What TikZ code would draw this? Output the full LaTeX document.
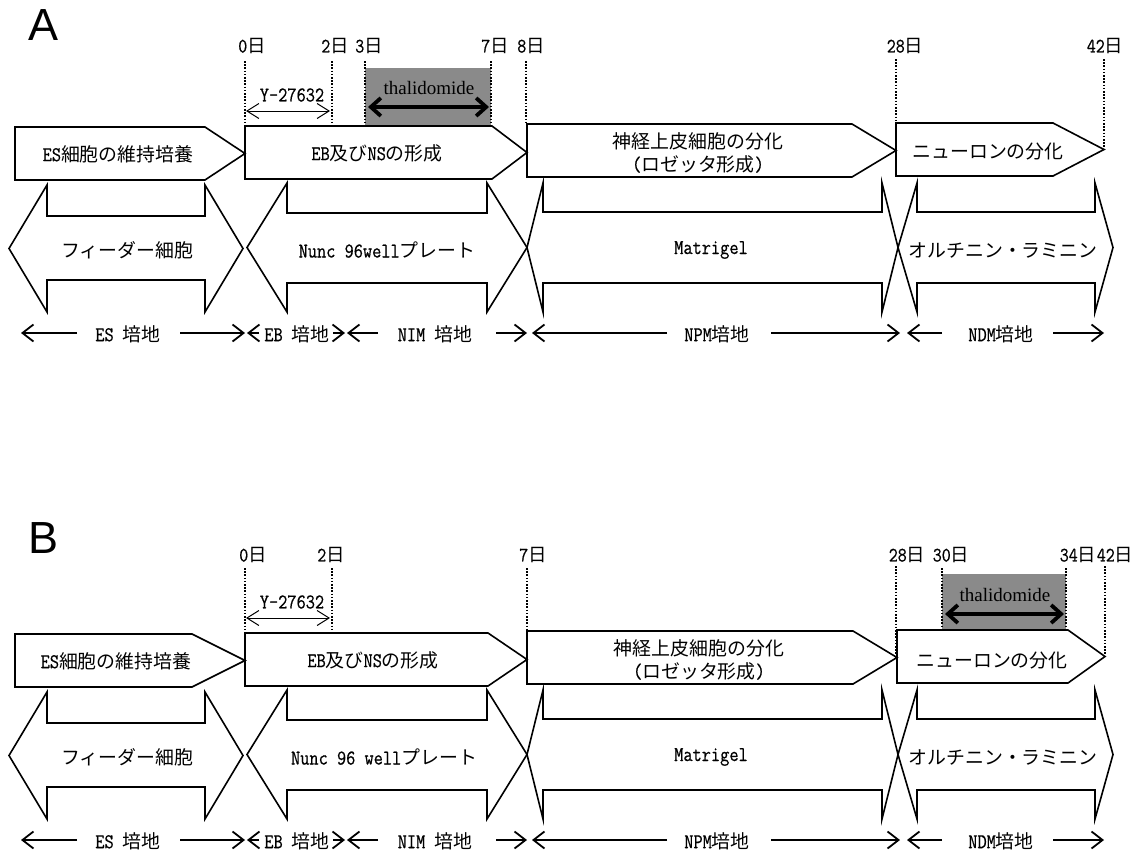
\documentclass[tikz,border=0pt]{standalone}
\usepackage{fontspec}
\setmainfont{Liberation Serif}
\newfontfamily\cjk[Scale=0.9]{Noto Sans CJK JP}
\newfontfamily\lat[FakeStretch=0.85,FakeBold=0.6]{Latin Modern Mono}
\newfontfamily\lsans{Liberation Sans}
\usetikzlibrary{arrows.meta}
\newcommand\J[1]{{\cjk #1}}
\definecolor{thgray}{RGB}{138,138,138}
% pentagon box: x1, xflat, xtip, top, bottom
\newcommand\pentbox[5]{\draw[pbox] (#1,#4) -- (#2,#4) -- (#3,{(#4+#5)/2}) -- (#2,#5) -- (#1,#5) -- cycle;}
% double arrow: ltip, lbase, rbase, rtip, headtop, stemtop, stembot, headbot
\newcommand\dblbox[8]{\draw[pbox] (#1,{(#5+#8)/2}) -- (#2,#5) -- (#2,#6) -- (#3,#6) -- (#3,#5) -- (#4,{(#5+#8)/2}) -- (#3,#8) -- (#3,#7) -- (#2,#7) -- (#2,#8) -- cycle;}
\tikzset{
  pbox/.style={draw=black, line width=1.6pt, line join=miter},
  lbl/.style={inner sep=0pt, font=\fontsize{21}{24}\selectfont\lat},
  daylbl/.style={inner sep=0pt, font=\fontsize{20.5}{23}\selectfont\lat},
  vline/.style={line width=1.8pt, dash pattern=on 1.6pt off 1.6pt},
  med/.style={line width=1.8pt, -{Straight Barb[length=11pt,width=17pt]}},
  yarr/.style={line width=1pt, {Straight Barb[length=12pt,width=15pt]}-{Straight Barb[length=12pt,width=15pt]}},
  tharr/.style={line width=3.8pt, {Straight Barb[length=10pt,width=18pt]}-{Straight Barb[length=10pt,width=18pt]}},
  thbox/.style={fill=thgray, draw=none},
  thtext/.style={inner sep=0pt, font=\fontsize{19}{22}\selectfont\rmfamily},
  panellbl/.style={inner sep=0pt, font=\fontsize{45}{45}\selectfont\lsans},
}
\begin{document}
\begin{tikzpicture}[x=1pt,y=-1pt]
\useasboundingbox (0,0) rectangle (1137,854);
\fill[white] (0,0) rectangle (1137,854);

%%%%%%%%%%%%%%%%%%%% PANEL A %%%%%%%%%%%%%%%%%%%%
\node[panellbl] (A-lbl) at (44,25) {A};
% day labels
\node[daylbl] (A-d0) at (252,46) {0\J{日}};
\node[daylbl] (A-d2) at (335,46) {2\J{日}};
\node[daylbl] (A-d3) at (369,46) {3\J{日}};
\node[daylbl] (A-d7) at (495,46) {7\J{日}};
\node[daylbl] (A-d8) at (531,46) {8\J{日}};
\node[daylbl] (A-d28) at (905,46) {28\J{日}};
\node[daylbl] (A-d42) at (1105,46) {42\J{日}};
% thalidomide box
\fill[thbox] (365,68) rectangle (491,126);
% dotted day lines
\draw[vline] (245,61) -- (245,126);
\draw[vline] (332,61) -- (332,126);
\draw[vline] (365,61) -- (365,126);
\draw[vline] (491,61) -- (491,126);
\draw[vline] (526,61) -- (526,124);
\draw[vline] (896,59) -- (896,150);
\draw[vline] (1104,59) -- (1104,149);
% Y-27632
\node[lbl] (A-y) at (292,95) {Y-27632};
\coordinate (A-y1) at (246,111); \coordinate (A-y2) at (330,111);
\draw[yarr] (A-y1) -- (A-y2);
% thalidomide
\node[thtext] (A-th) at (429,88) {thalidomide};
\coordinate (A-t1) at (368,107); \coordinate (A-t2) at (489,107);
\draw[tharr] (A-t1) -- (A-t2);
% row 1
\pentbox{15}{205}{245}{127}{180}
\pentbox{245}{492}{527}{126}{179}
\pentbox{527}{852}{896}{124}{177}
\pentbox{896}{1053}{1104}{123}{176}
\node[lbl] (A-es) at (118,154) {ES\J{細胞の維持培養}};
\node[lbl] (A-eb) at (377,153) {EB\J{及び}NS\J{の形成}};
\node[lbl] (A-ne1) at (698,141) {\J{神経上皮細胞の分化}};
\node[lbl] (A-ne2) at (698,164) {(\J{ロゼッタ形成})};
\node[lbl] (A-nu) at (988,152) {\J{ニューロンの分化}};
% row 2
\dblbox{9}{47}{205}{243}{185}{216}{280}{312}
\dblbox{247}{287}{487}{527}{183}{213}{283}{312}
\dblbox{527}{543}{882}{898}{183}{212}{283}{312}
\dblbox{898}{917}{1095}{1113}{183}{212}{283}{312}
\node[lbl] (A-fd) at (127,250) {\J{フィーダー細胞}};
\node[lbl] (A-nc) at (387,250) {Nunc 96well\J{プレート}};
\node[lbl] (A-mg) at (711,250) {Matrigel};
\node[lbl] (A-or) at (1003,250) {\J{オルチニン・ラミニン}};
% row 3 media
\node[lbl] (A-m1) at (128,334) {ES \J{培地}};
\node[lbl] (A-m2) at (297,334) {EB \J{培地}};
\node[lbl] (A-m3) at (435,334) {NIM \J{培地}};
\node[lbl] (A-m4) at (717,334) {NPM\J{培地}};
\node[lbl] (A-m5) at (1001,334) {NDM\J{培地}};
\coordinate (A-a1) at (21,333);  \coordinate (A-b1) at (77,333);
\coordinate (A-c1) at (180,333); \coordinate (A-e1) at (245,333);
\coordinate (A-a2) at (247,333); \coordinate (A-b2) at (259,333);
\coordinate (A-c2) at (333,333); \coordinate (A-e2) at (345,333);
\coordinate (A-a3) at (347,333); \coordinate (A-b3) at (378,333);
\coordinate (A-c3) at (496,333); \coordinate (A-e3) at (527,333);
\coordinate (A-a4) at (532,333); \coordinate (A-b4) at (667,333);
\coordinate (A-c4) at (771,333); \coordinate (A-e4) at (900,333);
\coordinate (A-a5) at (907,333); \coordinate (A-b5) at (942,333);
\coordinate (A-c5) at (1053,333); \coordinate (A-e5) at (1104,333);
\foreach \i in {1,...,5}{
  \draw[med] (A-b\i) -- (A-a\i);
  \draw[med] (A-c\i) -- (A-e\i);
}

%%%%%%%%%%%%%%%%%%%% PANEL B %%%%%%%%%%%%%%%%%%%%
\begin{scope}[shift={(0,507)}]
\node[panellbl] (B-lbl) at (44,31) {B};
\node[daylbl] (B-d0) at (253,48) {0\J{日}};
\node[daylbl] (B-d2) at (331,48) {2\J{日}};
\node[daylbl] (B-d7) at (533,48) {7\J{日}};
\node[daylbl] (B-d28) at (907,48) {28\J{日}};
\node[daylbl] (B-d30) at (951,48) {30\J{日}};
\node[daylbl] (B-d34) at (1078,48) {34\J{日}};
\node[daylbl] (B-d42) at (1115,48) {42\J{日}};
\fill[thbox] (942,67) rectangle (1066,124);
\draw[vline] (245,61) -- (245,126);
\draw[vline] (332,61) -- (332,126);
\draw[vline] (527,61) -- (527,126);
\draw[vline] (896,59) -- (896,150);
\draw[vline] (942,61) -- (942,124);
\draw[vline] (1066,61) -- (1066,124);
\draw[vline] (1105,59) -- (1105,149);
\node[lbl] (B-y) at (292,95) {Y-27632};
\coordinate (B-y1) at (246,111); \coordinate (B-y2) at (330,111);
\draw[yarr] (B-y1) -- (B-y2);
\node[thtext] (B-th) at (1005,88) {thalidomide};
\coordinate (B-t1) at (945,107); \coordinate (B-t2) at (1064,107);
\draw[tharr] (B-t1) -- (B-t2);
\pentbox{15}{192}{245}{127}{180}
\pentbox{245}{488}{527}{126}{179}
\pentbox{527}{853}{897}{124}{177}
\pentbox{897}{1068}{1105}{123}{176}
\node[lbl] (B-es) at (116,154) {ES\J{細胞の維持培養}};
\node[lbl] (B-eb) at (373,153) {EB\J{及び}NS\J{の形成}};
\node[lbl] (B-ne1) at (699,141) {\J{神経上皮細胞の分化}};
\node[lbl] (B-ne2) at (699,164) {(\J{ロゼッタ形成})};
\node[lbl] (B-nu) at (992,153) {\J{ニューロンの分化}};
\dblbox{9}{47}{205}{243}{185}{216}{280}{312}
\dblbox{247}{287}{487}{527}{183}{213}{283}{312}
\dblbox{527}{543}{882}{898}{183}{212}{283}{312}
\dblbox{898}{917}{1095}{1113}{183}{212}{283}{312}
\node[lbl] (B-fd) at (127,250) {\J{フィーダー細胞}};
\node[lbl] (B-nc) at (384,250) {Nunc 96 well\J{プレート}};
\node[lbl] (B-mg) at (711,250) {Matrigel};
\node[lbl] (B-or) at (1003,250) {\J{オルチニン・ラミニン}};
\node[lbl] (B-m1) at (128,334) {ES \J{培地}};
\node[lbl] (B-m2) at (297,334) {EB \J{培地}};
\node[lbl] (B-m3) at (435,334) {NIM \J{培地}};
\node[lbl] (B-m4) at (717,334) {NPM\J{培地}};
\node[lbl] (B-m5) at (1001,334) {NDM\J{培地}};
\coordinate (B-a1) at (21,333);  \coordinate (B-b1) at (77,333);
\coordinate (B-c1) at (180,333); \coordinate (B-e1) at (245,333);
\coordinate (B-a2) at (247,333); \coordinate (B-b2) at (259,333);
\coordinate (B-c2) at (333,333); \coordinate (B-e2) at (345,333);
\coordinate (B-a3) at (347,333); \coordinate (B-b3) at (378,333);
\coordinate (B-c3) at (496,333); \coordinate (B-e3) at (527,333);
\coordinate (B-a4) at (532,333); \coordinate (B-b4) at (667,333);
\coordinate (B-c4) at (771,333); \coordinate (B-e4) at (900,333);
\coordinate (B-a5) at (907,333); \coordinate (B-b5) at (942,333);
\coordinate (B-c5) at (1053,333); \coordinate (B-e5) at (1104,333);
\foreach \i in {1,...,5}{
  \draw[med] (B-b\i) -- (B-a\i);
  \draw[med] (B-c\i) -- (B-e\i);
}
\end{scope}
\end{tikzpicture}
\end{document}
